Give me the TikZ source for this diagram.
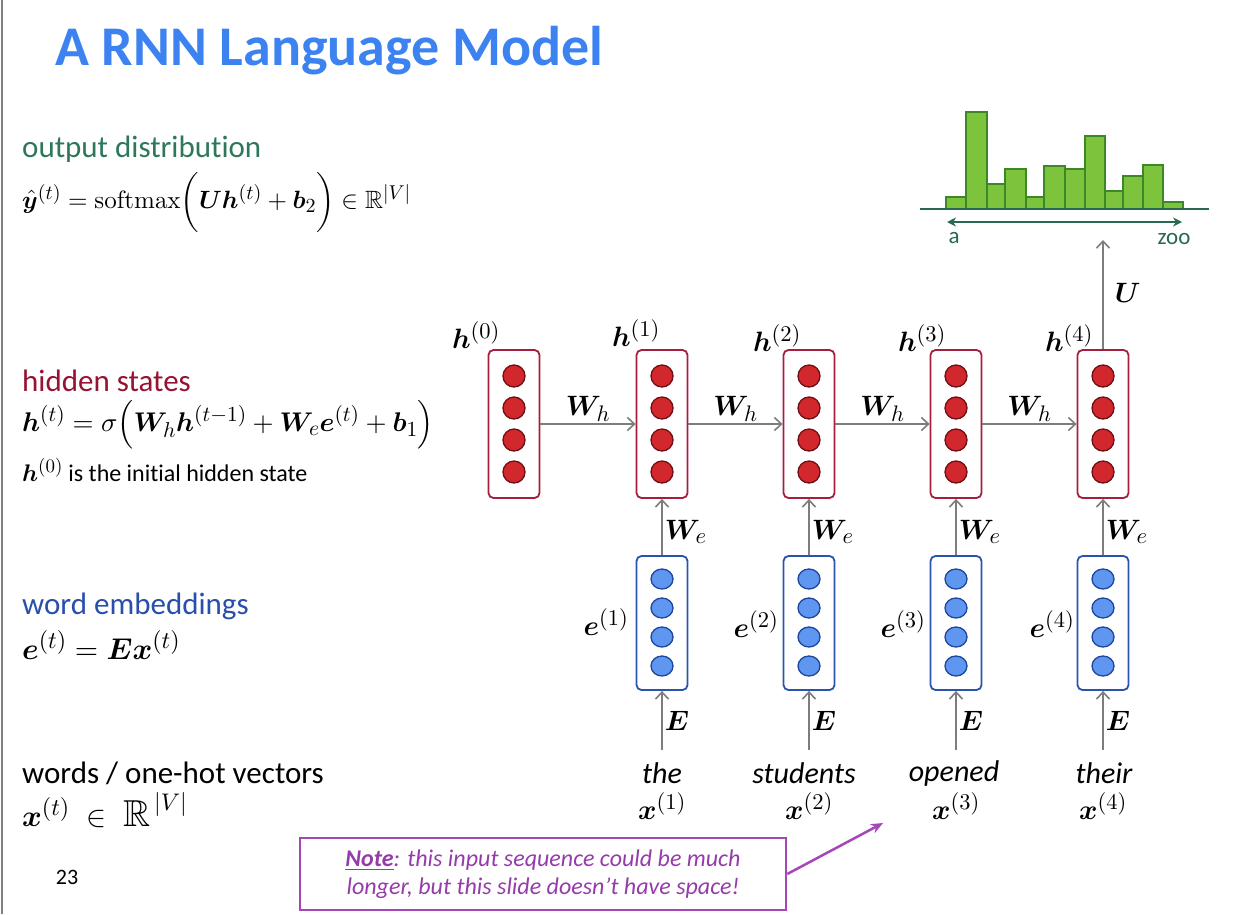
\documentclass[tikz,border=0pt]{standalone}
\usepackage{amsmath,amssymb,bm}
\usepackage[no-math]{fontspec}
\setmainfont{Carlito}[Ligatures=NoCommon]
\DeclareFontShape{OML}{cmm}{m}{it}{<->cmmi10}{}
\DeclareFontShape{OML}{cmm}{b}{it}{<->cmmib10}{}
\DeclareFontShape{OT1}{cmr}{m}{n}{<->cmr10}{}
\DeclareFontShape{OT1}{cmr}{bx}{n}{<->cmbx10}{}
\DeclareFontShape{OMS}{cmsy}{m}{n}{<->cmsy10}{}
\DeclareFontShape{OMS}{cmsy}{b}{n}{<->cmbsy10}{}
\DeclareFontShape{OMX}{cmex}{m}{n}{<->cmex10}{}
\DeclareFontFamily{U}{msb}{}
\DeclareFontShape{U}{msb}{m}{n}{<->msbm10}{}
\DeclareMathSizes{24}{24}{19}{14.5}
\DeclareMathSizes{25}{25}{20}{15}
\DeclareMathSizes{27}{27}{21.5}{16}
\DeclareMathSizes{28}{28}{22.5}{17}
\DeclareMathSizes{30}{30}{24}{18}
\DeclareMathSizes{32}{32}{26}{19}
\usetikzlibrary{arrows.meta,calc,shapes.geometric}
\definecolor{titleblue}{RGB}{60,130,240}
\definecolor{outgreen}{RGB}{45,120,90}
\definecolor{hidred}{RGB}{150,20,50}
\definecolor{embblue}{RGB}{40,80,170}
\definecolor{hbord}{RGB}{165,30,60}
\definecolor{hfill}{RGB}{210,40,45}
\definecolor{hdark}{RGB}{110,15,20}
\definecolor{ebord}{RGB}{40,85,170}
\definecolor{efill}{RGB}{95,150,240}
\definecolor{edark}{RGB}{30,70,160}
\definecolor{cgray}{RGB}{125,125,125}
\definecolor{barfill}{RGB}{125,195,60}
\definecolor{barline}{RGB}{60,135,40}
\definecolor{axisgreen}{RGB}{40,105,80}
\definecolor{notepurple}{RGB}{165,70,185}
\definecolor{notetext}{RGB}{150,60,170}
\begin{document}
\begin{tikzpicture}[x=1pt,y=-1pt,
  hbox/.style={draw=hbord, line width=1.8pt, rounded corners=5pt, fill=white,
    minimum width=51pt, minimum height=148pt, inner sep=0pt},
  hdot/.style={circle, draw=hdark, fill=hfill, line width=1.3pt, minimum size=22pt, inner sep=0pt},
  ebox/.style={draw=ebord, line width=1.8pt, rounded corners=5pt, fill=white,
    minimum width=51pt, minimum height=134pt, inner sep=0pt},
  edot/.style={ellipse, draw=edark, fill=efill, line width=1.3pt, minimum width=22pt, minimum height=20pt, inner sep=0pt},
  conn/.style={draw=cgray, line width=1.8pt, -{Straight Barb[length=7pt,width=13pt,line width=1.6pt]}},
  lab/.style={font=\fontsize{28}{33}\selectfont, inner sep=2pt},
  word/.style={font=\fontsize{30}{36}\selectfont\itshape, inner sep=0pt},
  head/.style={font=\fontsize{31}{37}\selectfont, anchor=base west, inner sep=0pt},
  formula/.style={font=\fontsize{24}{29}\selectfont, anchor=west, inner sep=0pt},
  bar/.style={draw=barline, fill=barfill, line width=1.2pt},
  axis/.style={draw=axisgreen, line width=1.8pt},
  small/.style={font=\fontsize{23}{27}\selectfont, text=axisgreen, inner sep=0pt}
]
\fill[white] (0,0) rectangle (1250,914);
\useasboundingbox (0,0) rectangle (1250,914);
\draw[gray, line width=1.5pt] (2,0) -- (2,914);

% title
\node[anchor=base west, inner sep=0pt, font=\fontsize{56}{62}\selectfont\bfseries, text=titleblue] (title) at (55,65) {A RNN Language Model};

% left column
\node[head, text=outgreen] (outhead) at (22,157) {output distribution};
\node[formula, font=\fontsize{25}{30}\selectfont] (outform) at (22,202) {$\hat{\bm y}^{(t)} = \mathrm{softmax}\bigg(\bm U \bm h^{(t)} + \bm b_2\bigg) \in \mathbb{R}^{|V|}$};
\node[head, text=hidred] (hidhead) at (22,391) {hidden states};
\node[formula, font=\fontsize{27}{32}\selectfont] (hidform) at (22,425) {$\bm h^{(t)} = \sigma\Big(\bm W_h \bm h^{(t-1)} + \bm W_e \bm e^{(t)} + \bm b_1\Big)$};
\node[formula] (hinit) at (22,470) {$\bm h^{(0)}$ is the initial hidden state};
\node[head, text=embblue] (embhead) at (22,614) {word embeddings};
\node[formula, font=\fontsize{30}{36}\selectfont] (embform) at (22,645) {$\bm e^{(t)} = \bm E \bm x^{(t)}$};
\node[head] (wordhead) at (22,783) {words / one-hot vectors};
\node[formula, font=\fontsize{30}{36}\selectfont] (wordform) at (22,810) {$\bm x^{(t)} \;\in\; \scalebox{1.25}{$\mathbb{R}$}^{\,|V|}$};
\node[font=\fontsize{22}{26}\selectfont, inner sep=0pt] (pnum) at (67,877) {23};

% hidden states
\foreach \i/\x in {0/514,1/662,2/809,3/956,4/1103}{
  \node[hbox] (h\i) at (\x,424) {};
  \foreach \k/\dy in {1/-48,2/-16,3/16,4/48}
    \node[hdot] (h\i d\k) at (\x,424+\dy) {};
}
% embeddings
\foreach \i/\x in {1/662,2/809,3/956,4/1103}{
  \node[ebox] (e\i) at (\x,623) {};
  \foreach \k/\dy in {1/-44,2/-15,3/14,4/43}
    \node[edot] (e\i d\k) at (\x,623+\dy) {};
  \coordinate (xs\i) at (\x,750);
}

% recurrent arrows
\draw[conn] (h0.east) -- node[lab, above]{$\bm W_h$} (h1.west);
\draw[conn] (h1.east) -- node[lab, above]{$\bm W_h$} (h2.west);
\draw[conn] (h2.east) -- node[lab, above]{$\bm W_h$} (h3.west);
\draw[conn] (h3.east) -- node[lab, above]{$\bm W_h$} (h4.west);

% We and E arrows
\foreach \i in {1,2,3,4}{
  \draw[conn] (e\i.north) -- node[lab, right, yshift=-5pt]{$\bm W_e$} (h\i.south);
  \draw[conn] (xs\i) -- node[lab, right]{$\bm E$} (e\i.south);
}

% U arrow
\coordinate (uend) at (1103,240);
\draw[conn] (h4.north) -- node[lab, right, xshift=9pt, yshift=2pt]{$\bm U$} (uend);

% h labels
\node[lab] (hl0) at (476,335) {$\bm h^{(0)}$};
\node[lab] (hl1) at (636,333) {$\bm h^{(1)}$};
\node[lab] (hl2) at (777,338) {$\bm h^{(2)}$};
\node[lab] (hl3) at (922,338) {$\bm h^{(3)}$};
\node[lab] (hl4) at (1069,338) {$\bm h^{(4)}$};

% e labels
\node[lab] (el1) at (606,622) {$\bm e^{(1)}$};
\node[lab] (el2) at (756,624) {$\bm e^{(2)}$};
\node[lab] (el3) at (903,624) {$\bm e^{(3)}$};
\node[lab] (el4) at (1052,624) {$\bm e^{(4)}$};

% words
\node[word] (w1) at (662,773) {the};
\node[word] (w2) at (804,773) {students};
\node[word] (w3) at (954,773) {opened};
\node[word] (w4) at (1104,773) {their};
\node[lab] (xl1) at (662,806) {$\bm x^{(1)}$};
\node[lab] (xl2) at (809,806) {$\bm x^{(2)}$};
\node[lab] (xl3) at (956,806) {$\bm x^{(3)}$};
\node[lab] (xl4) at (1103,806) {$\bm x^{(4)}$};

% histogram
\foreach \a/\b/\t in {946/966/197,966/987/112,987/1005/184,1005/1026/169,1026/1044/197,1044/1065/166,1065/1085/169,1085/1105/136,1105/1123/191,1123/1143/176,1143/1163/165,1163/1183/202}
  \draw[bar] (\a,209) rectangle (\b,\t);
\coordinate (axl) at (920,209);
\coordinate (axr) at (1209,209);
\draw[axis] (axl) -- (axr);
\coordinate (dal) at (947,222);
\coordinate (dar) at (1182,222);
\draw[axis, {Stealth[length=9pt,width=9pt]}-{Stealth[length=9pt,width=9pt]}] (dal) -- (dar);
\node[small] (la) at (954,238) {a};
\node[small] (lzoo) at (1174,239) {zoo};

% note
\node[draw=notepurple, line width=2.5pt, minimum width=486pt, minimum height=72pt, inner sep=0pt,
  align=center, text=notetext, font=\fontsize{24}{28}\selectfont\itshape] (note) at (543,874)
  {\underline{\textbf{Note}}: this input sequence could be much\\longer, but this slide doesn’t have space!};
\coordinate (ntip) at (883,823);
\draw[draw=notepurple, line width=2.5pt, -{Stealth[length=12pt,width=10pt]}] (note.east) -- (ntip);
\end{tikzpicture}
\end{document}
